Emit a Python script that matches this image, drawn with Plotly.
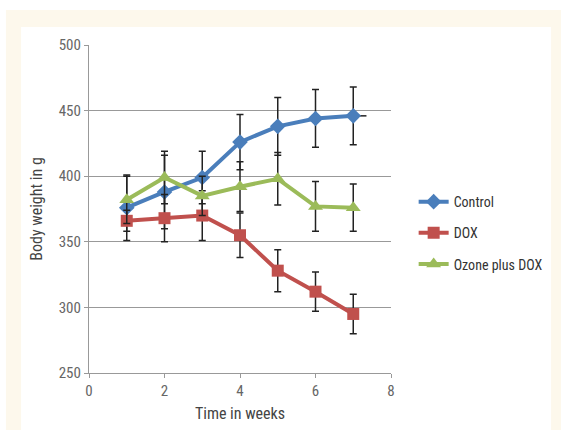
import plotly.graph_objects as go

weeks = [1, 2, 3, 4, 5, 6, 7]
control = [376, 388, 399, 426, 438, 444, 446]
control_err = [25, 28, 20, 21, 22, 22, 22]
dox = [366, 368, 370, 355, 328, 312, 295]
dox_err = [8, 18, 19, 17, 16, 15, 15]
ozone = [382, 399, 385, 392, 398, 377, 376]
ozone_err = [18, 20, 15, 19, 20, 19, 18]
control_xerr = [0, 0, 0, 0, 0, 0, 0.35]

FONT = "Liberation Sans Narrow, Arial Narrow, Roboto Condensed, Liberation Sans, Arial, sans-serif"

series = [
    ("Control", control, control_err, "#4a7ebb", "diamond", 12, control_xerr),
    ("DOX", dox, dox_err, "#c0504d", "square", 12, None),
    ("Ozone plus DOX", ozone, ozone_err, "#9bbb59", "triangle-up", 13, None),
]

fig = go.Figure()
for name, vals, err, color, sym, size, xerr in series:
    kw = {}
    if xerr is not None:
        kw["error_x"] = dict(type="data", array=xerr, visible=True, color="#222222",
                             thickness=1.5, width=0)
    fig.add_trace(go.Scatter(
        x=weeks, y=vals, name=name, legendgroup=name, mode="lines+markers",
        line=dict(color=color, width=4),
        marker=dict(symbol=sym, size=size, color=color),
        error_y=dict(type="data", array=err, visible=True, color="#222222",
                     thickness=1.5, width=3.5),
        **kw,
    ))

fig.update_layout(
    width=561, height=430,
    margin=dict(l=89, r=170, t=45, b=57, pad=0),
    paper_bgcolor="white",
    plot_bgcolor="rgba(0,0,0,0)",
    font=dict(family=FONT, size=14, color="#444444"),
    showlegend=True,
    legend=dict(x=1.075, y=0.57, xanchor="left", yanchor="top",
                traceorder="grouped", tracegroupgap=10,
                font=dict(family=FONT, size=14, color="#333333"),
                bgcolor="rgba(0,0,0,0)", itemwidth=30),
    shapes=[
        dict(type="rect", xref="paper", yref="paper", x0=-0.275, x1=1.7, y0=-0.3, y1=1.107,
             fillcolor="#fdf8ec", line=dict(width=0), layer="below"),
        dict(type="rect", xref="paper", yref="paper", x0=-0.225, x1=1.53, y0=-0.3, y1=1.055,
             fillcolor="#ffffff", line=dict(width=0), layer="below"),
    ],
)

fig.update_xaxes(
    range=[0, 8], dtick=2, tick0=0, showgrid=False, zeroline=False,
    showline=True, linecolor="#999999", linewidth=1.2,
    ticks="outside", ticklen=4, tickcolor="#999999",
    tickfont=dict(family=FONT, size=15, color="#666666"),
    title=dict(text="Time in weeks", font=dict(family=FONT, size=16, color="#444444"), standoff=8),
)
fig.update_yaxes(
    range=[250, 500], dtick=50, tick0=250, showgrid=True, gridcolor="#999999", gridwidth=1.2,
    zeroline=False, showline=True, linecolor="#999999", linewidth=1.2,
    ticks="outside", ticklen=4, tickcolor="#999999",
    tickfont=dict(family=FONT, size=15, color="#666666"),
    title=dict(text="Body weight in g", font=dict(family=FONT, size=16, color="#444444"), standoff=12),
)

fig.write_html("out.html", config={"displayModeBar": False},
               post_script="document.body.style.margin='0';")
